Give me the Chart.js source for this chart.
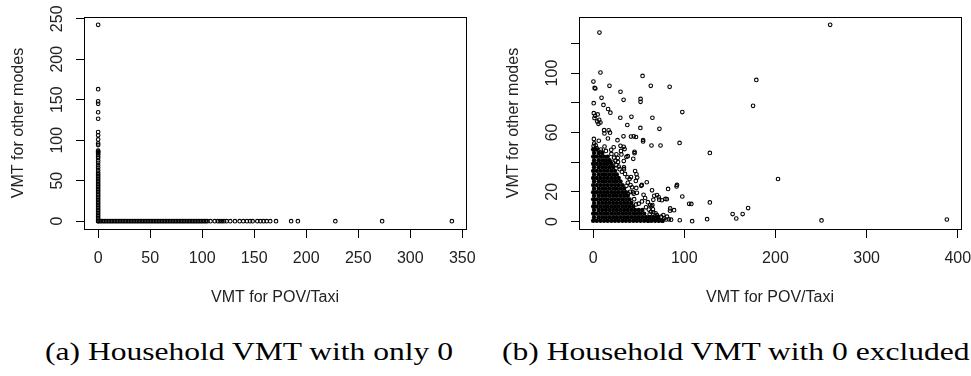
<!DOCTYPE html>
<html>
<head>
<meta charset="utf-8">
<script src="https://cdn.jsdelivr.net/npm/chart.js@4.4.1/dist/chart.umd.min.js"></script>
<style>
  html, body { margin: 0; padding: 0; background: #fff; }
  body { width: 971px; height: 376px; overflow: hidden; position: relative; }
  canvas { position: absolute; top: 0; }
  #chartA { left: 0; }
  #chartB { left: 490px; }
  .cap {
    position: absolute; top: 339px; white-space: nowrap;
    font-family: 'Liberation Serif', serif; font-size: 26px; line-height: 26px;
    color: #000; transform-origin: 0 0;
  }
</style>
</head>
<body>
<canvas id="chartA" width="490" height="320"></canvas>
<canvas id="chartB" width="500" height="320"></canvas>
<div class="cap" id="capA" style="left:45px">(a) Household VMT with only 0</div>
<div class="cap" id="capB" style="left:502px">(b) Household VMT with 0 excluded</div>
<script>
// ---- panel (a): households with a zero in one of the two modes ----
// POV/Taxi VMT of households with 0 VMT for other modes
var povOnlyA = [0,1.5,3,4.5,6,7.5,9,10.5,12,13.5,15,16.5,18,19.5,21,22.5,24,25.5,27,28.5,30,31.5,33,34.5,
  36,37.5,39,40.5,42,43.5,45,46.5,48,49.5,51,52.5,54,55.5,57,58.5,60,61.5,63,64.5,66,67.5,69,70.5,72,73.5,
  75,76.5,78,79.5,81,82.5,84,85.5,87,88.5,90,91.5,93,94.5,96,97.5,99,100.5,102,103.5,
  105,108,112,115,117,119,121,123.5,127,131.5,136,139.5,143,146,148.5,153,156,159,162,165.4,171,
  185.5,192,228,273,340];
// other-mode VMT of households with 0 VMT for POV/Taxi
var otherOnlyA = [0,2,4,6,8,10,12,14,16,18,20,22,24,26,28,30,32,34,36,38,40,42,44,46,48,50,52,54,56,58,
  60,63,66,69,72,75,78,80,82,84,85,86,87,94,96,101,106,110,126.5,134.5,145,148,163,242.5];

var xTicksA = [0, 50, 100, 150, 200, 250, 300, 350];
var yTicksA = [0, 50, 100, 150, 200, 250];

// ---- panel (b): households with both modes non-zero ----
var sparseB = [
  [260,132.5],[6.9,127.3],[179,95.4],[175.4,77.9],[128,46.2],[202.8,28.6],[128,12.8],
  [170,9],[153,5],[164,5],[157,2],[125,1.5],[250.5,0.7],[388,1.3],[108.6,0.2],[95,0.8],
  [107.7,11.8],[105.3,11.9],
  [8,100.4],[0.3,94.3],[1.6,90],[2.4,89.6],[17.9,91.4],[54.2,98.1],[63.2,91.4],[83.9,90.7],
  [30,87.4],[9.2,83.3],[33.4,82],[52,82.6],[52,80.6],[0.6,79.7],[11.3,78.5],[16.4,75.8],
  [18.9,73.3],[97.8,73.7],[0.7,73],[2.2,71.2],[5,72.1],[6.6,68.5],[1.4,69.7],[8,66.7],
  [4.5,67.4],[5.8,65.8],[29.8,69.9],[42,70.5],[65,69.9],[37.5,65],[51.8,63],[72.7,62.4],
  [12,61.5],[17,61.4],[18.5,59.8],[12.4,59.3],[16.2,55.9],[6.2,54.4],[26.7,54.8],
  [33.3,57.4],[41.5,57.2],[44.5,57.4],[47,56.9],[54.8,54.9],[54.8,53.9],[64,51.2],
  [73.9,51.2],[94.8,52.9],
  [0.5,50.8],[1.2,52.6],[2.8,51.3],[0.8,55.6],[4,49.2],[8.5,48.5],[9.2,46.9],[19.8,48.3],
  [30,51],[33.5,50.3],[34.5,48.8],[25.5,45.3],[31,45.2],[38,44],[36.5,43.5],[45.4,46.9],[45.4,46],
  [44,42.2],[27,42.7],[33.6,40.7],[27.3,40],[17.5,40.8],[21.5,39.6],[25.5,38],[28,37],[29,35.2],
  [33.8,36.4],[33.8,35.2],[46,34],[47.5,31.8],[48.3,29.6],[46.8,27.3],[37.6,29.8],[40,28.6],[41.5,29.9],
  [58.8,26.4],[53.4,24.6],[52.7,24],[42.7,23],[47.3,22.6],[48,19.3],[38.5,18.8],[43.7,19.6],[40.5,20],
  [44.5,18.7],[55.3,18],[57,15.8],[60,13],[62.5,11],[64,10.3],[67,17.3],[70,17.8],[72,16.3],[79.2,15.2],
  [92,24.6],[82.2,21.9],[91.5,23.6],[64.6,21],[97.8,16.8],[80.8,15],[72.5,14.7],[75.4,14.3],[66,14.6],
  [65,11],[65.6,8.2],[84.5,8.8],[88.8,7.6],[84.3,7.2],
  [66,6.2],[70,4.2],[74.7,3.2],[78,2],[83,1.4],[85.5,1.2],[62,4.8],[64.5,2.6],[68,1.5],[72,0.8],[76,0.5],
  [80,1.3],[61,0.6],[59,2.5],[63.5,6.5],[68.5,5.5],[71.5,3],[77,4.3],[81,3.2],
  [23,43],[20,45.5],[14,47.5],[24.5,41],[35,32],[31.5,33.5],[38,26],[36.5,24],[41,24.5],[45,15],[50,12],
  [53.5,13.5],[47,11.5],[58,9.5],[61,8],[30.5,47.5],[22.5,50],[12.5,50.5]
];
// the over-plotted core near the origin, read row by row (other-mode VMT -> POV/Taxi VMT values)
var coreRowsY = [0.5,2.9,5.3,7.7,10.1,12.5,14.9,17.3,19.7,22.1,24.5,26.9,29.3,31.7,34.1,36.5,38.9,41.3,43.7,46.1,48.5];
var coreRowsX = [
  [0,4,8,12,16,20,24,28,32,36,40,44,48,52,56,60,64,68,72,76],
  [1,6,10,14,18,22,26,30,34,38,42,46,50,54,58,62,66,70],
  [0,4,8,12,16,20,24,28,32,36,40,44,48,52,56],
  [1,6,10,14,18,22,26,30,34,38,42,46,50,54],
  [0,4,8,12,16,20,24,28,32,36,40,44],
  [1,6,10,14,18,22,26,30,34,38,42],
  [0,4,8,12,16,20,24,28,32,36,40],
  [1,6,10,14,18,22,26,30,34,38],
  [0,4,8,12,16,20,24,28,32,36],
  [1,6,10,14,18,22,26,30,34],
  [0,4,8,12,16,20,24,28,32],
  [1,6,10,14,18,22,26,30],
  [0,4,8,12,16,20,24,28],
  [1,6,10,14,18,22,26],
  [0,4,8,12,16,20,24],
  [1,6,10,14,18,22],
  [0,4,8,12,16,20],
  [1,6,10,14,18],
  [0,4,8,12,16],
  [1,6,10],
  [0,4]
];

var xTicksB = [0, 100, 200, 300, 400];
var yTicksB = [0, 20, 40, 60, 80, 100, 120];
var yLabelsB = [0, 20, 60, 100];

// ---- build points ----
var ptsA = povOnlyA.map(v => ({ x: v, y: 0 })).concat(otherOnlyA.map(v => ({ x: 0, y: v })));
var ptsSparseB = sparseB.map(p => ({ x: p[0], y: p[1] }));
var ptsCoreB = [];
coreRowsY.forEach((y, i) => { coreRowsX[i].forEach(x => ptsCoreB.push({ x: x, y: y })); });

// R pads the data range by 4% on each side
function rRange(vals) {
  var lo = Math.min.apply(null, vals), hi = Math.max.apply(null, vals);
  var d = (hi - lo) * 0.04;
  return [lo - d, hi + d];
}

var textCol = '#222';
var fontFamily = "'Liberation Sans', Arial, sans-serif";
function axisFont() { return { family: fontFamily, size: 16 }; }

// which y labels each panel writes (keyed by canvas id)
var yLabelSets = { chartA: yTicksA, chartB: yLabelsB };

// frame around the plot region, and y tick labels turned parallel to the axis like R
function rStylePlugin() {
  return {
    id: 'rstyle',
    afterDraw(chart) {
      var a = chart.chartArea, c = chart.ctx, ys = chart.scales.y;
      var labs = yLabelSets[chart.canvas.id] || [];
      c.save();
      c.strokeStyle = '#000';
      c.lineWidth = 1;
      c.strokeRect(Math.round(a.left) + 0.5, Math.round(a.top) + 0.5,
        Math.round(a.right - a.left), Math.round(a.bottom - a.top));
      c.fillStyle = textCol;
      c.font = '16px ' + fontFamily;
      c.textAlign = 'center';
      c.textBaseline = 'middle';
      for (var i = 0; i < labs.length; i++) {
        var y = ys.getPixelForValue(labs[i]);
        c.setTransform(0, -1, 1, 0, a.left - 26, y);
        c.fillText(String(labs[i]), 0, 0);
      }
      c.setTransform(1, 0, 0, 1, 0, 0);
      c.restore();
    }
  };
}

function buildOptions(cfg) {
  return {
    responsive: false,
    animation: false,
    devicePixelRatio: 1,
    layout: { padding: { left: 0, top: 17, right: cfg.padRight, bottom: 0 } },
    plugins: { legend: { display: false }, tooltip: { enabled: false } },
    scales: {
      x: {
        type: 'linear', position: 'bottom', bounds: 'data',
        min: cfg.xr[0], max: cfg.xr[1],
        afterBuildTicks: s => { s.ticks = cfg.xTicks.map(v => ({ value: v })); },
        afterFit: s => { s.height = 91; s.paddingLeft = 0; s.paddingRight = 0; },
        grid: { display: true, drawOnChartArea: false, drawTicks: true, tickLength: 9, color: '#000', tickColor: '#000', lineWidth: 1 },
        border: { display: false },
        ticks: { autoSkip: false, maxRotation: 0, minRotation: 0, padding: 11, color: textCol, font: axisFont() },
        title: { display: true, text: 'VMT for POV/Taxi', color: textCol, font: axisFont(), padding: { top: 0, bottom: 13 } }
      },
      y: {
        type: 'linear', position: 'left', bounds: 'data',
        min: cfg.yr[0], max: cfg.yr[1],
        afterBuildTicks: s => { s.ticks = cfg.yTicks.map(v => ({ value: v })); },
        afterFit: s => { s.width = cfg.yWidth; s.paddingTop = 0; s.paddingBottom = 0; },
        grid: { display: true, drawOnChartArea: false, drawTicks: true, tickLength: 8, color: '#000', tickColor: '#000', lineWidth: 1 },
        border: { display: false },
        ticks: { display: false, autoSkip: false, color: 'rgba(0,0,0,0)' },
        title: { display: true, text: 'VMT for other modes', color: textCol, font: axisFont(), padding: { top: cfg.yTitlePad, bottom: 0 } }
      }
    }
  };
}

var hollow = { pointRadius: 1.8, pointBorderWidth: 1.1, pointBorderColor: '#000', pointBackgroundColor: 'rgba(0,0,0,0)', pointHoverRadius: 1.8 };

new Chart(document.getElementById('chartA'), {
  type: 'scatter',
  data: { datasets: [Object.assign({ data: ptsA }, hollow)] },
  options: buildOptions({
    padRight: 24, yWidth: 84, yTitlePad: 9,
    xr: rRange(ptsA.map(p => p.x)), yr: rRange(ptsA.map(p => p.y)),
    xTicks: xTicksA, yTicks: yTicksA
  }),
  plugins: [rStylePlugin()]
});

var allB = ptsSparseB.concat(ptsCoreB);
new Chart(document.getElementById('chartB'), {
  type: 'scatter',
  data: {
    datasets: [
      Object.assign({ data: ptsSparseB }, hollow),
      { data: ptsCoreB, pointRadius: 2.2, pointBorderWidth: 0, pointBackgroundColor: '#000', pointHoverRadius: 2.2 }
    ]
  },
  options: buildOptions({
    padRight: 29, yWidth: 89, yTitlePad: 14,
    xr: rRange(allB.map(p => p.x)), yr: rRange(allB.map(p => p.y)),
    xTicks: xTicksB, yTicks: yTicksB
  }),
  plugins: [rStylePlugin()]
});

// the captions are set in a wide roman face; stretch to the reference width
var capW = document.getElementById('capA').getBoundingClientRect().width;
var sx = 408 / capW;
document.querySelectorAll('.cap').forEach(el => { el.style.transform = 'scaleX(' + sx + ')'; });
</script>
</body>
</html>
